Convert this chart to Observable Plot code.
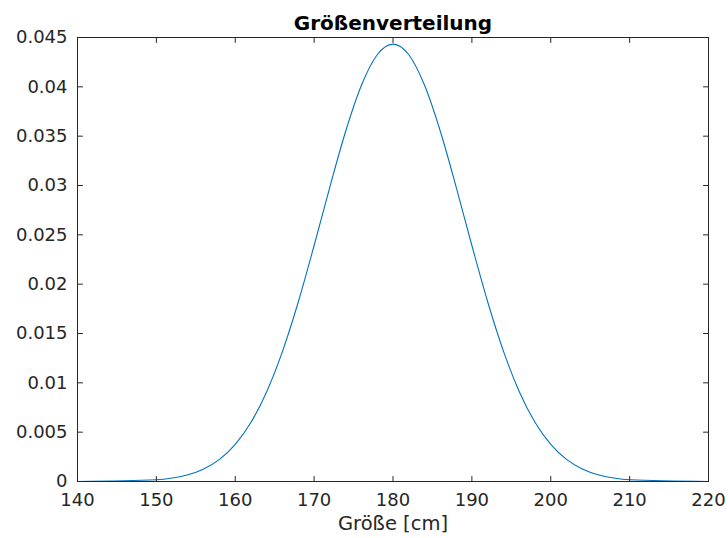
<!DOCTYPE html>
<html>
<head>
<meta charset="utf-8">
<script src="https://cdn.jsdelivr.net/npm/d3@7"></script>
<script src="https://cdn.jsdelivr.net/npm/@observablehq/plot@0.6"></script>
<style>
  html, body { margin: 0; padding: 0; background: #fff; }
  #chart { width: 728px; height: 538px; }
  svg { font-family: "DejaVu Sans", sans-serif; }
</style>
</head>
<body>
<div id="chart"></div>
<script>
// Values (height in cm, density)
const sizes = [140, 150, 152, 154, 156, 158, 160, 162, 164, 166, 168, 170, 172, 174, 176, 178, 180,
               182, 184, 186, 188, 190, 192, 194, 196, 198, 200, 202, 204, 206, 208, 210, 220];
const density = [0, 0.00017, 0.00035, 0.00068, 0.00127, 0.00224, 0.00376, 0.0060, 0.00913, 0.01322, 0.01822, 0.02392, 0.02987, 0.0355, 0.04016, 0.04325, 0.04433,
                 0.04325, 0.04016, 0.0355, 0.02987, 0.02392, 0.01822, 0.01322, 0.00913, 0.0060, 0.00376, 0.00224, 0.00127, 0.00068, 0.00035, 0.00017, 0];
const xTicks = [140, 150, 160, 170, 180, 190, 200, 210, 220];
const yTicks = [0, 0.005, 0.01, 0.015, 0.02, 0.025, 0.03, 0.035, 0.04, 0.045];
const titleText = "Größenverteilung";
const xLabel = "Größe [cm]";

const curveData = sizes.map((s, i) => ({size: s, density: density[i]}));
const axisColor = "#262626";
const lineColor = "#0072BD";
const tickShape = {draw(context, l) { context.moveTo(0, 0); context.lineTo(0, -l); }};
const fmtY = d => String(+d.toFixed(3));

const chart = Plot.plot({
  width: 728,
  height: 538,
  marginLeft: 77,
  marginRight: 20,
  marginTop: 37,
  marginBottom: 57,
  style: {fontFamily: "DejaVu Sans, sans-serif", background: "#fff", color: axisColor},
  x: {domain: [140, 220]},
  y: {domain: [0, 0.045]},
  marks: [
    Plot.line(curveData, {x: "size", y: "density", stroke: lineColor, strokeWidth: 1.1, curve: "monotone-x"}),
    Plot.frame({stroke: axisColor, strokeWidth: 1}),
    // inward ticks
    Plot.vector(xTicks, {x: d => d, frameAnchor: "bottom", length: 5, rotate: 0, anchor: "start", shape: tickShape, stroke: axisColor, strokeWidth: 1}),
    Plot.vector(xTicks, {x: d => d, frameAnchor: "top", length: 5, rotate: 180, anchor: "start", shape: tickShape, stroke: axisColor, strokeWidth: 1}),
    Plot.vector(yTicks, {y: d => d, frameAnchor: "left", length: 5, rotate: 90, anchor: "start", shape: tickShape, stroke: axisColor, strokeWidth: 1}),
    Plot.vector(yTicks, {y: d => d, frameAnchor: "right", length: 5, rotate: -90, anchor: "start", shape: tickShape, stroke: axisColor, strokeWidth: 1}),
    Plot.axisX({ticks: xTicks, tickSize: 0, tickPadding: 12, fontSize: 18, label: null, color: axisColor}),
    Plot.axisY({ticks: yTicks, tickSize: 0, tickPadding: 10, fontSize: 18, tickFormat: fmtY, label: null, color: axisColor}),
    Plot.text([xLabel], {frameAnchor: "bottom", dy: 48, text: d => d, fontSize: 19.5, fill: axisColor}),
    Plot.text([titleText], {frameAnchor: "top", dy: -22, text: d => d, fontSize: 20, fontWeight: "bold", fill: "#000"})
  ]
});
document.getElementById("chart").appendChild(chart);
</script>
</body>
</html>
